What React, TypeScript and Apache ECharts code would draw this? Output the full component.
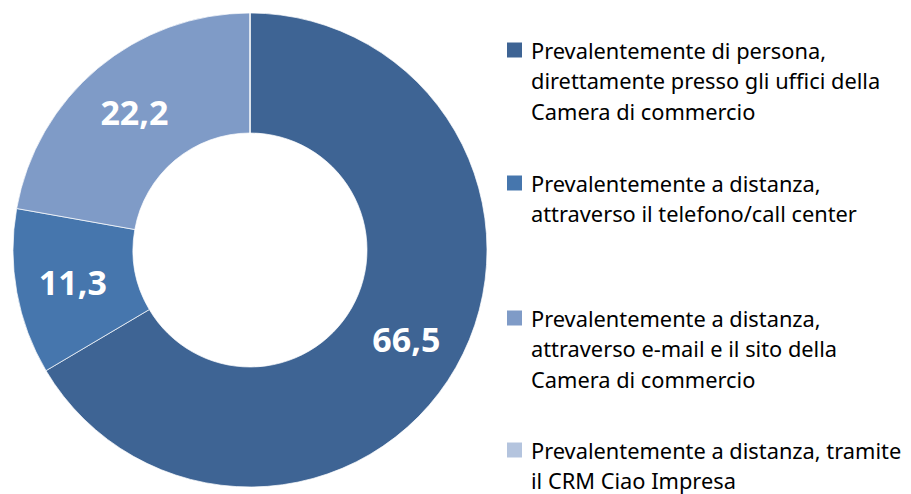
import React, { useEffect, useRef } from "react";
import * as echarts from "echarts";

const categories = [
  "Prevalentemente di persona, direttamente presso gli uffici della Camera di commercio",
  "Prevalentemente a distanza, attraverso il telefono/call center",
  "Prevalentemente a distanza, attraverso e-mail e il sito della Camera di commercio",
  "Prevalentemente a distanza, tramite il CRM Ciao Impresa",
];
const legendLines = [
  ["Prevalentemente di persona,", "direttamente presso gli uffici della", "Camera di commercio"],
  ["Prevalentemente a distanza,", "attraverso il telefono/call center"],
  ["Prevalentemente a distanza,", "attraverso e-mail e il sito della", "Camera di commercio"],
  ["Prevalentemente a distanza, tramite", "il CRM Ciao Impresa"],
];
const values = [66.5, 11.3, 22.2, 0];
const colors = ["#3E6494", "#4676AD", "#7F9BC7", "#B4C4DE"];

const legendCenters = [50, 183, 318, 450];

export default function App() {
  const ref = useRef<HTMLDivElement>(null);
  useEffect(() => {
    if (!ref.current) return;
    const chart = echarts.init(ref.current, undefined, { renderer: "svg" });
    const lineH = 30.5;
    const fontSize = 21.8;
    const graphic: any[] = [];
    categories.forEach((c, i) => {
      const cy = legendCenters[i];
      graphic.push({
        type: "rect",
        left: 507,
        top: cy - 7.5,
        shape: { width: 15, height: 15 },
        style: { fill: colors[i] },
      });
      graphic.push({
        type: "text",
        left: 531,
        top: cy - lineH / 2,
        style: {
          text: legendLines[i].join("\n"),
          font: `${fontSize}px "Noto Sans"`,
          lineHeight: lineH,
          fill: "#000",
        },
      });
    });
    chart.setOption({
      animation: false,
      graphic,
      series: [
        {
          type: "pie",
          center: [250, 250],
          radius: [117, 237],
          startAngle: 90,
          clockwise: true,
          avoidLabelOverlap: false,
          itemStyle: { borderColor: "rgba(255,255,255,0.7)", borderWidth: 1 },
          label: {
            show: true,
            position: "inside",
            color: "#fff",
            fontFamily: "Open Sans",
            fontWeight: "bold",
            fontSize: 34,
            formatter: (p: any) => (p.value ? String(p.value.toFixed(1)).replace(".", ",") : ""),
          },
          labelLine: { show: false },
          data: categories.map((c, i) => ({
            name: c,
            value: values[i],
            itemStyle: { color: colors[i] },
          })),
        },
      ],
    });
    return () => chart.dispose();
  }, []);
  return (
    <div
      ref={ref}
      style={{ position: "fixed", left: 0, top: 0, width: 911, height: 494, background: "#fff" }}
    />
  );
}
